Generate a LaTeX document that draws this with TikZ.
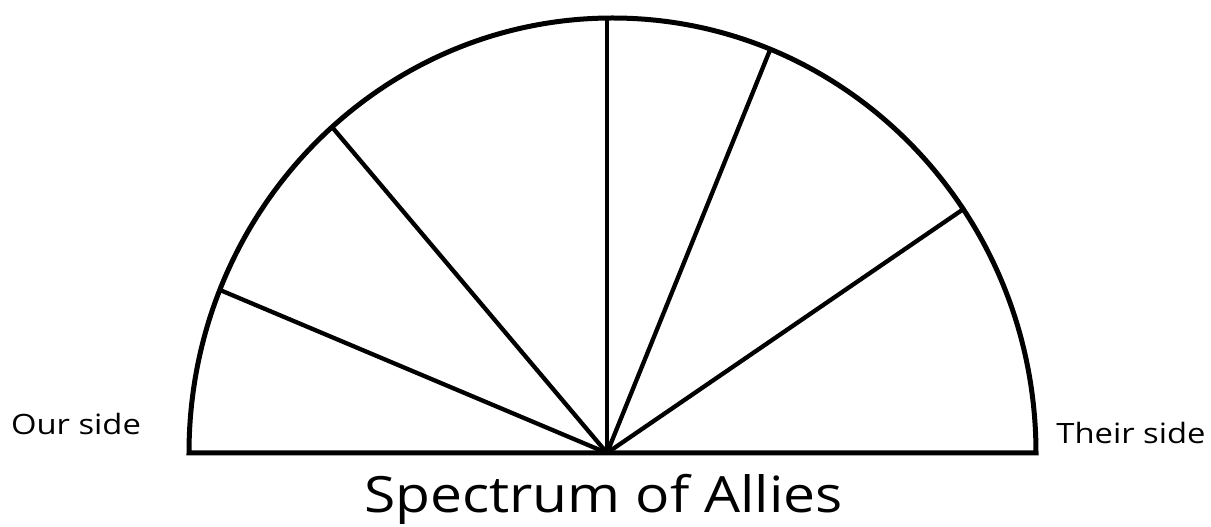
\documentclass[tikz,border=0pt]{standalone}
\usepackage{fontspec}
\setmainfont{Open Sans}
\begin{document}
\begin{tikzpicture}[x=1pt,y=1pt,
  edge/.style={line width=4.3pt,black,line cap=butt},
  lbl/.style={inner sep=0pt,font=\fontsize{28}{30}\selectfont}]
\useasboundingbox (0,0) rectangle (1211,527);
\coordinate (L) at (189,74);
\coordinate (R) at (1036,74);
\coordinate (O) at (607,74);
\coordinate (p1) at (220,237);
\coordinate (p2) at (332,400);
\coordinate (p3) at (607,509);
\coordinate (p4) at (770,477);
\coordinate (p5) at (965,319);
\draw[edge,line width=5pt,line join=miter] (L) arc[start angle=180,end angle=0,x radius=423.5pt,y radius=435pt] -- cycle;
\foreach \p in {p1,p2,p3,p4,p5} \draw[edge] (O) -- (\p);
\node[lbl] (our) at (76,103) {\scalebox{1.17}[1]{Our side}};
\node[lbl] (their) at (1131,94) {\scalebox{1.17}[1]{Their side}};
\node[inner sep=0pt,anchor=base,font=\fontsize{50}{54}\selectfont] (title) at (603.5,14) {\scalebox{1.14}[1]{Spectrum of Allies}};
\end{tikzpicture}
\end{document}
